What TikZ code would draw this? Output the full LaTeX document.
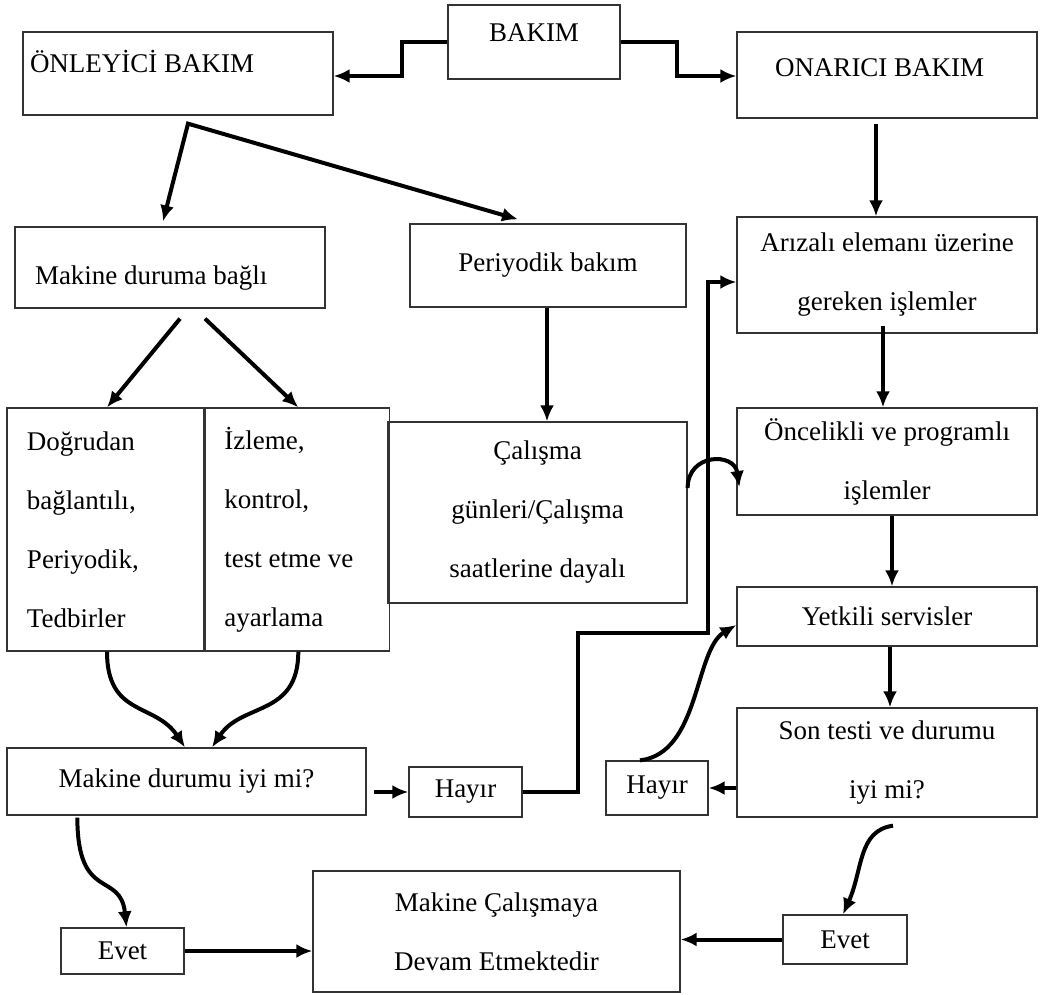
\documentclass[tikz,border=0pt]{standalone}
\usepackage{fontspec}
\setmainfont{Liberation Serif}
\usetikzlibrary{arrows.meta,positioning}

\begin{document}
\begin{tikzpicture}[
    x=1pt, y=-1pt,
    >={Latex[length=16pt,width=14pt]},
    font=\fontsize{27}{59}\selectfont,
    block/.style={
		rectangle,
		draw=black!80,
		line width=1.3pt,
		align=center,
		inner sep=0pt
	},
	leftblock/.style={
		block,
		align=flush left
	},
	flow/.style={
		->,
		line width=4pt
	}
  ]
  \useasboundingbox (0,0) rectangle (1047,994);

  % We start by placing the blocks
  \node [block, minimum width=172pt, minimum height=74pt, text depth=18pt] (bakim) at (534,42) {BAKIM};
  \node [leftblock, text width=296pt, inner xsep=7pt, minimum height=83pt, text depth=24pt] (onleyici) at (178,73.5) {ÖNLEYİCİ BAKIM};
  \node [leftblock, text width=224pt, inner xsep=38pt, minimum height=86pt, text depth=15pt] (onarici) at (887,75) {ONARICI BAKIM};

  \node [leftblock, text width=270pt, inner xsep=20pt, minimum height=81pt, text height=40pt] (durumabagli) at (170,267.5) {Makine duruma bağlı};
  \node [block, minimum width=276pt, minimum height=83pt] (periyodik) at (548,265.5) {Periyodik bakım};
  \node [block, minimum width=300pt, minimum height=116pt] (arizali) at (887,275) {Arızalı elemanı üzerine\\gereken işlemler};

  \node [leftblock, text width=157pt, inner xsep=20pt, minimum height=243pt] (dogrudan) at (105.5,529.5)
  {Doğrudan\\bağlantılı,\\Periyodik,\\Tedbirler};
  \node [leftblock, text width=146pt, inner xsep=19pt, minimum height=243pt, right=0pt of dogrudan] (izleme)
  {İzleme,\\kontrol,\\test etme ve\\ayarlama};
  \node [block, minimum width=299pt, minimum height=181pt] (calisma) at (537.5,512.5)
  {Çalışma\\günleri/Çalışma\\saatlerine dayalı};
  \node [block, minimum width=300pt, minimum height=107pt] (oncelikli) at (887,461.5) {Öncelikli ve programlı\\işlemler};
  \node [block, minimum width=300pt, minimum height=59pt] (yetkili) at (887,616.5) {Yetkili servisler};
  \node [block, minimum width=300pt, minimum height=109pt] (sontesti) at (887,762.5) {Son testi ve durumu\\iyi mi?};

  \node [block, minimum width=359pt, minimum height=67pt] (durumuiyi) at (186.5,781.5) {Makine durumu iyi mi?};
  \node [block, minimum width=113pt, minimum height=50pt] (hayir1) at (465.5,792) {Hayır};
  \node [block, minimum width=102pt, minimum height=54pt] (hayir2) at (657,788) {Hayır};

  \node [block, minimum width=123pt, minimum height=46pt] (evet1) at (122.5,951) {Evet};
  \node [block, minimum width=367pt, minimum height=121pt] (devam) at (496.5,931.5) {Makine Çalışmaya\\Devam Etmektedir};
  \node [block, minimum width=124pt, minimum height=49pt] (evet2) at (845,939.5) {Evet};

  % then the connectors
  \coordinate (bl) at (402,76);
  \coordinate (br) at (677,76);
  \coordinate (fork) at ([xshift=10,yshift=-8]onleyici.south);
  \coordinate (h1) at (578,633);
  \coordinate (h2) at (708,282);

  \draw [flow] (bakim.west) -| (bl) -- (onleyici.east |- bl);
  \draw [flow] (bakim.east) -| (br) -- (onarici.west |- br);
  \draw [flow, <->] ([xshift=-7,yshift=5]durumabagli.north) -- (fork) -- ([xshift=-30,yshift=4]periyodik.north);
  \draw [flow] ([xshift=-11,yshift=-5]onarici.south) -- ([xshift=-11]arizali.north);

  \draw [flow] ([xshift=10,yshift=-10]durumabagli.south) -- ([xshift=1.5]dogrudan.north);
  \draw [flow] ([xshift=35,yshift=-10]durumabagli.south) -- ([xshift=1]izleme.north);
  \draw [flow] ([xshift=-1]periyodik.south) -- ([xshift=-1]periyodik.south |- calisma.north);
  \draw [flow] ([xshift=-4,yshift=8]arizali.south) -- ([xshift=-4]oncelikli.north);
  \draw [flow] ([yshift=24.5]calisma.east) .. controls +(0,-35) and +(-5,-35) .. ([xshift=3,yshift=-25.5]oncelikli.west);
  \draw [flow] ([xshift=5]oncelikli.south) -- ([xshift=5]yetkili.north);
  \draw [flow] ([xshift=3]yetkili.south) -- ([xshift=3]sontesti.north);

  \draw [flow] ([xshift=1.5]dogrudan.south) .. controls +(0,65) and +(-30,-45) .. ([xshift=-1.5]durumuiyi.north);
  \draw [flow] ([xshift=1]izleme.south) .. controls +(0,65) and +(30,-45) .. ([xshift=25.5]durumuiyi.north);
  \draw [flow] ([xshift=7]durumuiyi.east |- hayir1.west) -- (hayir1.west);
  \draw [flow] (hayir1.east) -| (h1) -| (h2) -- (arizali.west |- h2);
  \draw [flow] (sontesti.west |- hayir2.east) -- (hayir2.east);
  \draw [flow] ([xshift=-17]hayir2.north) .. controls +(60,-7) and +(-42,25) .. ([yshift=-8.5]yetkili.west);

  \draw [flow] ([xshift=71,yshift=-2]durumuiyi.south west) .. controls +(0,85) and +(-6,-57) .. ([xshift=4]evet1.north);
  \draw [flow] ([xshift=6,yshift=-8]sontesti.south) .. controls +(-35,5) and +(20,-45) .. ([xshift=-2]evet2.north);
  \draw [flow] (evet1.east) -- (devam.west |- evet1.east);
  \draw [flow] (evet2.west) -- (devam.east |- evet2.west);

\end{tikzpicture}
\end{document}
